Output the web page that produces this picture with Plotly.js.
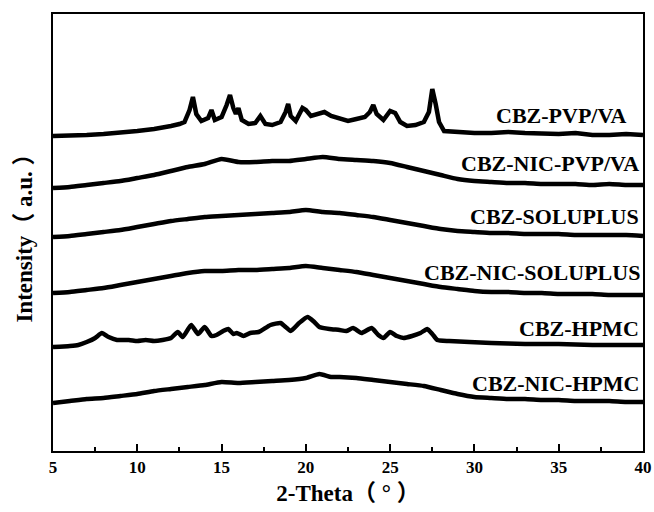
<!DOCTYPE html>
<html>
<head>
<meta charset="utf-8">
<script src="https://cdn.plot.ly/plotly-3.0.1.min.js"></script>
<style>html,body{margin:0;padding:0;background:#fff}#chart{width:654px;height:512px}</style>
</head>
<body>
<div id="chart"></div>
<script>
// Series labels (top to bottom)
const seriesNames = ["CBZ-PVP/VA","CBZ-NIC-PVP/VA","CBZ-SOLUPLUS","CBZ-NIC-SOLUPLUS","CBZ-HPMC","CBZ-NIC-HPMC"];

// 2-Theta values and stacked intensities (a.u.)
const xPvpVa = [5,6,7,8,9,10,11,11.5,12,12.5,12.8,13.1,13.3,13.5,13.8,14.2,14.4,14.6,15.0,15.3,15.5,15.7,15.85,16.0,16.2,16.6,17.0,17.3,17.6,18.0,18.5,18.8,18.95,19.1,19.4,19.8,20.0,20.3,20.8,21.1,21.5,22,22.5,23,23.5,23.8,24.0,24.2,24.6,25.0,25.3,25.6,26,26.5,27,27.3,27.5,27.7,27.9,28.2,29,30,31,32,33,34,35,36,37,38,39,40];
const yPvpVa = [315,315,316,317,318,320,322,323,325,327,329,341,354,337,330,333,341,331,334,346,356,343,337,343,331,327,328,335,327,326,329,339,347,335,330,343,341,335,338,339,335,333,330,332,334,339,346,337,331,340,338,329,325,326,329,339,362,347,329,320,319,318,318,319,318,317,317,318,316,316,317,316];

const xGrid = [5,6,7,8,9,10,11,12,13,14,15,16,17,18,19,20,21,22,23,24,25,26,27,28,29,30,31,32,33,34,35,36,37,38,39,40];
const yNicPvpVa = [263,264,266,268,270,273,276,280,284,287,292,289,289,290,290,292,294,292,291,290,288,284,280,276,272,270,269,268,268,267,267,267,266,267,266,266];
const ySoluplus = [214,215,217,219,221,224,227,230,232,234,235,236,237,238,239,241,239,238,236,234,231,228,225,222,220,219,218,218,217,217,217,216,216,216,216,215];
const yNicSoluplus = [158,159,161,163,166,169,172,175,178,180,180,181,181,182,183,185,183,181,179,176,173,170,167,164,162,160,159,159,158,158,157,157,157,156,156,156];

const xHpmc = [5,6,6.5,7,7.5,7.9,8.3,8.8,9.5,10,10.5,11,11.5,12,12.4,12.7,13.2,13.6,14.0,14.4,14.7,15.1,15.4,15.7,15.9,16.3,16.7,17.2,17.9,18.5,18.8,19.1,19.6,20.1,20.5,20.8,21.4,22.0,22.4,22.8,23.3,23.9,24.3,24.6,25.0,25.4,25.8,26.3,26.8,27.2,27.5,27.8,28.5,29.7,31,33,35,37,39,40];
const yHpmc = [104,105,106,109,113,118,114,111,111,110,111,110,111,113,119,114,126,117,124,115,116,120,122,117,118,115,118,119,126,128,124,120,128,134,129,124,122,121,120,123,118,123,116,113,119,115,113,115,118,122,117,111,110,109,108,107,107,106,106,106];

const xNicHpmc = [5,6,7,8,9,10,11,12,13,14,15,16,17,18,19,20,20.8,21.5,22,23,24,25,26,27,28,29,30,31,32,33,34,35,36,37,38,39,40];
const yNicHpmc = [48,50,52,53,55,57,60,62,64,66,69,68,69,70,71,73,77,74,74,73,71,69,67,65,61,57,54,53,52,52,51,51,50,50,50,49,49];

const xTicks = [5,10,15,20,25,30,35,40];

const xs = [xPvpVa, xGrid, xGrid, xGrid, xHpmc, xNicHpmc];
const ys = [yPvpVa, yNicPvpVa, ySoluplus, yNicSoluplus, yHpmc, yNicHpmc];
const shapes = ["linear", "spline", "spline", "spline", "spline", "spline"];

const serif = "Liberation Serif, Times New Roman, Noto Sans CJK SC, serif";
const traces = seriesNames.map((n, i) => ({
  type: "scatter", mode: "lines", name: n, x: xs[i], y: ys[i],
  line: {color: "#000", width: 4.5, shape: shapes[i], smoothing: 0.5},
  showlegend: false, hoverinfo: "skip"
}));

// label placement (layout)
const labelY = [336, 288, 235, 179, 123, 68];
const labelX = [0.975, 0.997, 0.997, 0.999, 0.997, 0.997];
const annotations = seriesNames.map((n, i) => ({
  text: n, xref: "paper", yref: "y", x: labelX[i], y: labelY[i],
  xanchor: "right", yanchor: "middle", showarrow: false,
  font: {family: serif, size: 22, color: "#000", weight: "bold"}
}));

const layout = {
  width: 654, height: 512,
  margin: {l: 53, r: 11, t: 14, b: 61},
  paper_bgcolor: "#fff", plot_bgcolor: "#fff",
  showlegend: false,
  annotations: annotations,
  xaxis: {
    range: [5, 40], tickvals: xTicks, ticktext: xTicks.map(String),
    ticks: "inside", ticklen: 7, tickwidth: 2, tickcolor: "#000",
    minor: {ticks: "inside", ticklen: 4, tickwidth: 2, dtick: 2.5, tick0: 5, tickcolor: "#000"},
    showline: true, linewidth: 2, linecolor: "#000", mirror: true,
    showgrid: false, zeroline: false,
    tickfont: {family: serif, size: 17, color: "#000", weight: "bold"},
    title: {text: "2-Theta（ ° ）", font: {family: serif, size: 23, color: "#000", weight: "bold"}, standoff: 8}
  },
  yaxis: {
    range: [0, 437], showticklabels: false, ticks: "",
    showline: true, linewidth: 2, linecolor: "#000", mirror: true,
    showgrid: false, zeroline: false,
    title: {text: "Intensity（ a.u. ）", font: {family: serif, size: 23, color: "#000", weight: "bold"}, standoff: 12}
  }
};

Plotly.newPlot("chart", traces, layout, {staticPlot: true, displayModeBar: false});
</script>
</body>
</html>
